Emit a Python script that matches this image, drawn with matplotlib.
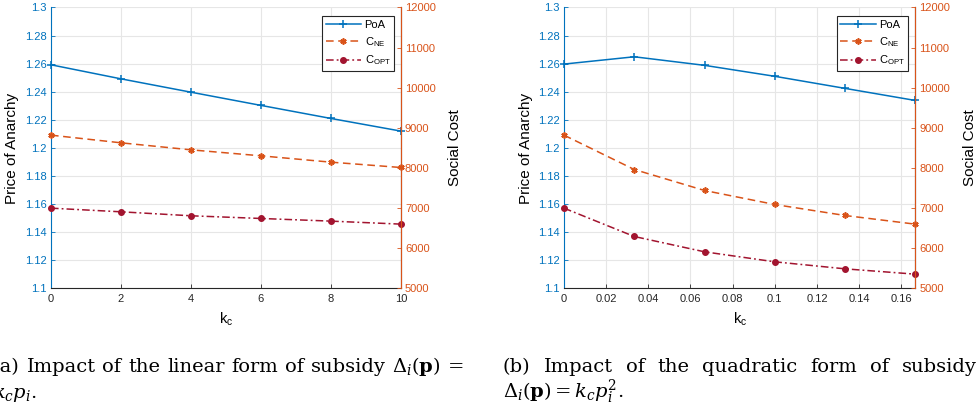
import numpy as np
import matplotlib.pyplot as plt

plt.rcParams['font.family'] = ['Liberation Sans', 'DejaVu Sans']
plt.rcParams['mathtext.fontset'] = 'dejavuserif'
plt.rcParams['mathtext.default'] = 'regular'

BLUE = '#0072BD'
ORANGE = '#D95319'
RED = '#A2142F'

# (a) linear subsidy
kc_lin = [0, 2, 4, 6, 8, 10]
poa_lin = [1.2592, 1.2492, 1.2397, 1.2303, 1.2210, 1.2120]
cne_lin = [8819, 8628, 8453, 8304, 8146, 8013]
copt_lin = [7000, 6909, 6810, 6743, 6677, 6602]

# (b) quadratic subsidy
kc_quad = [0, 1/30, 2/30, 3/30, 4/30, 5/30]
poa_quad = [1.2597, 1.2649, 1.2588, 1.2510, 1.2424, 1.2338]
cne_quad = [8819, 7963, 7440, 7091, 6817, 6601]
copt_quad = [7000, 6294, 5912, 5663, 5488, 5355]

poa_ticks = [1.1, 1.12, 1.14, 1.16, 1.18, 1.2, 1.22, 1.24, 1.26, 1.28, 1.3]
poa_labels = ['1.1', '1.12', '1.14', '1.16', '1.18', '1.2', '1.22', '1.24', '1.26', '1.28', '1.3']
cost_ticks = [5000, 6000, 7000, 8000, 9000, 10000, 11000, 12000]

caption_a = [r'(a) Impact of the linear form of subsidy $\Delta_{\mathit{i}}(\mathbf{p})$ =', r'$\mathit{k_c p_i}$.']
caption_b = [r'(b) Impact of the quadratic form of subsidy', r'$\Delta_{\mathit{i}}(\mathbf{p}) = \mathit{k_c p_i^2}$.']


def panel(rect, x, poa, cne, copt, xlim, xticks, xlabels):
    ax = fig.add_axes(rect)
    ax2 = ax.twinx()
    l1, = ax.plot(x, poa, color=BLUE, lw=1.1, marker='+', ms=6, mew=1.1, clip_on=False, label='PoA')
    l2, = ax2.plot(x, cne, color=ORANGE, lw=1.1, ls=(0, (5, 3)), marker=(6, 2, 0), ms=4.5, mew=1.2,
                   clip_on=False, label='C$_{NE}$')
    l3, = ax2.plot(x, copt, color=RED, lw=1.1, ls=(0, (5, 2, 1.2, 2)), marker='o', ms=4,
                   clip_on=False, label='C$_{OPT}$')
    ax.set_xlim(*xlim)
    ax.set_ylim(1.1, 1.3)
    ax2.set_ylim(5000, 12000)
    ax.set_xticks(xticks)
    ax.set_xticklabels(xlabels)
    ax.set_yticks(poa_ticks)
    ax.set_yticklabels(poa_labels)
    ax2.set_yticks(cost_ticks)
    ax.grid(True, color='#e6e6e6', lw=0.8)
    ax.set_axisbelow(True)
    for a in (ax, ax2):
        a.spines['top'].set_visible(False)
        a.tick_params(direction='in', length=3, labelsize=8, width=0.6)
    ax.spines['left'].set_color(BLUE)
    ax.spines['bottom'].set_color('#262626')
    ax2.spines['right'].set_color(ORANGE)
    ax2.spines['left'].set_visible(False)
    ax2.spines['bottom'].set_visible(False)
    ax.tick_params(axis='y', colors=BLUE, pad=3)
    ax.tick_params(axis='x', colors='#262626', pad=4)
    ax2.tick_params(axis='y', colors=ORANGE, pad=3)
    ax.set_ylabel('Price of Anarchy', fontsize=11, labelpad=4)
    ax2.set_ylabel('Social Cost', fontsize=11, labelpad=9)
    ax.set_xlabel('k$_c$', fontsize=10.5, labelpad=5)
    leg = ax2.legend(handles=[l1, l2, l3], loc='upper right', bbox_to_anchor=(0.98, 0.968),
                     fontsize=8, frameon=True, fancybox=False, edgecolor='#262626',
                     handlelength=3.2, handletextpad=0.3, borderpad=0.3, labelspacing=0.45,
                     borderaxespad=0, framealpha=1)
    leg.get_frame().set_linewidth(0.8)
    return ax, ax2


def split_words(line):
    merged = []
    for w in line.split(' '):
        if merged and merged[-1].count('$') % 2 == 1:
            merged[-1] += ' ' + w
        else:
            merged.append(w)
    return merged


def justify(line, x0, x1, y, **kw):
    texts = [fig.text(0, y, w, **kw) for w in split_words(line)]
    fig.canvas.draw()
    r = fig.canvas.get_renderer()
    widths = [t.get_window_extent(r).width for t in texts]
    W = fig.get_figwidth() * fig.dpi
    gap = (x1 - x0 - sum(widths)) / (len(texts) - 1)
    pos = x0
    for t, w in zip(texts, widths):
        t.set_x(pos / W)
        pos += w + gap


fig = plt.figure(figsize=(9.8, 4.15), dpi=100)

panel([0.052, 0.305, 0.357, 0.677], kc_lin, poa_lin, cne_lin, copt_lin, (0, 10),
      [0, 2, 4, 6, 8, 10], ['0', '2', '4', '6', '8', '10'])
panel([0.5755, 0.305, 0.3585, 0.677], kc_quad, poa_quad, cne_quad, copt_quad, (0, 1/6),
      [0, 0.02, 0.04, 0.06, 0.08, 0.1, 0.12, 0.14, 0.16],
      ['0', '0.02', '0.04', '0.06', '0.08', '0.1', '0.12', '0.14', '0.16'])

# size the caption font so that line (a) fills its column with normal spacing
probe = fig.text(0, 0, caption_a[0], fontsize=10, family='DejaVu Serif')
fig.canvas.draw()
pw = probe.get_window_extent(fig.canvas.get_renderer()).width
probe.remove()
cap_size = min(10 * 471 / pw, 14)

cap = dict(fontsize=cap_size, family='DejaVu Serif', va='baseline')
y1 = 1 - 372 / 415
y2 = 1 - 398 / 415
justify(caption_a[0], -7, 464, y1, **cap)
fig.text(-7 / 980, y2, caption_a[1], **cap)
justify(caption_b[0], 503, 977, y1, **cap)
fig.text(503 / 980, y2, caption_b[1], **cap)

fig.savefig('out.png', dpi=100)
